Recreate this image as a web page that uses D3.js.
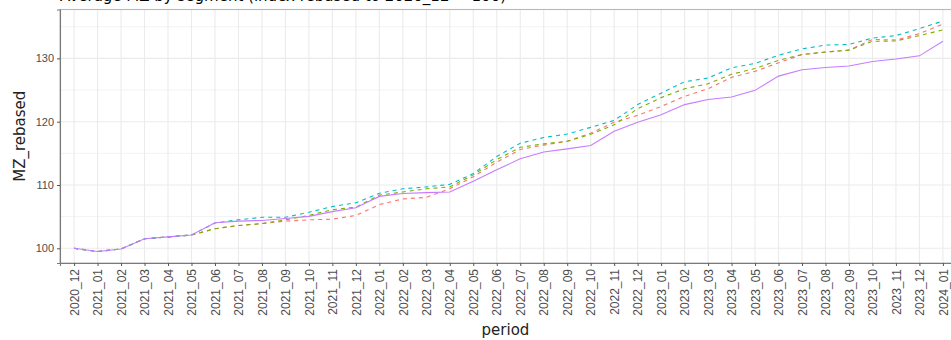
<!DOCTYPE html>
<html lang="en">
  <head>
    <meta charset="UTF-8" />
    <title>MZ rebased</title>
    <style>
      body { margin: 0; background: #fff; overflow: hidden; }
      svg { font-family: "DejaVu Sans", sans-serif; display: block; }
    </style>
  </head>
  <body>
    <div id="chart"></div>
    <script src="https://d3js.org/d3.v7.min.js"></script>
    <script>
      const periods = [
        "2020_12",
        "2021_01","2021_02","2021_03","2021_04","2021_05","2021_06",
        "2021_07","2021_08","2021_09","2021_10","2021_11","2021_12",
        "2022_01","2022_02","2022_03","2022_04","2022_05","2022_06",
        "2022_07","2022_08","2022_09","2022_10","2022_11","2022_12",
        "2023_01","2023_02","2023_03","2023_04","2023_05","2023_06",
        "2023_07","2023_08","2023_09","2023_10","2023_11","2023_12",
        "2024_01"
      ];

      // four groups
      const seriesRed = [
        100, 99.5, 99.9, 101.5, 101.8, 102.1, 103.1, 103.6, 103.9, 104.3, 104.5, 104.6, 105.2,
        106.9, 107.8, 108.05, 109.4, 111.3, 113.6, 115.6, 116.3, 116.9, 118.2, 119.9, 121.0,
        122.4, 124.0, 125.2, 127.0, 127.95, 129.3, 130.6, 131.0, 131.3, 133.0, 132.9, 133.9, 135.4
      ];
      const seriesGreen = [
        100, 99.5, 99.9, 101.5, 101.8, 102.1, 103.1, 103.6, 103.9, 104.5, 105.2, 106.1, 106.5,
        108.4, 108.9, 109.4, 109.7, 111.6, 114.0, 115.95, 116.5, 116.9, 118.0, 119.5, 122.05,
        123.8, 125.2, 126.0, 127.5, 128.4, 129.7, 130.6, 131.0, 131.3, 132.7, 132.75, 133.6, 134.5
      ];
      const seriesCyan = [
        100, 99.5, 99.9, 101.5, 101.8, 102.1, 104.0, 104.5, 104.9, 104.9, 105.7, 106.6, 107.2,
        108.7, 109.4, 109.7, 110.1, 111.8, 114.5, 116.6, 117.5, 118.05, 119.1, 120.2, 122.7,
        124.5, 126.3, 126.9, 128.5, 129.2, 130.5, 131.5, 132.1, 132.2, 133.2, 133.6, 134.7, 135.9
      ];
      const seriesPurple = [
        100, 99.5, 99.9, 101.5, 101.8, 102.1, 104.05, 104.3, 104.4, 104.7, 105.05, 105.8, 106.4,
        108.2, 108.65, 108.8, 108.9, 110.6, 112.4, 114.15, 115.2, 115.7, 116.25, 118.5, 119.9,
        121.1, 122.7, 123.5, 123.9, 124.95, 127.2, 128.2, 128.55, 128.8, 129.5, 129.9, 130.4, 132.7
      ];

      const yTicks = [100, 110, 120, 130];
      const yMinor = [105, 115, 125, 135];

      const series = [
        { values: seriesRed, color: "#F8766D", dash: "4,4" },
        { values: seriesGreen, color: "#7CAE00", dash: "4,4" },
        { values: seriesCyan, color: "#00BFC4", dash: "4,4" },
        { values: seriesPurple, color: "#C77CFF", dash: null }
      ];

      const width = 951, height = 340;
      const mLeft = 60, mTop = 9.5, mBottom = 263, mRight = 957;

      const svg = d3.select("#chart").append("svg")
        .attr("width", width)
        .attr("height", height);

      const x = d3.scalePoint().domain(periods).range([mLeft, mRight]).padding(0.6);

      const all = series.flatMap(s => s.values);
      const lo = d3.min(all), hi = d3.max(all), pad = (hi - lo) * 0.05;
      const y = d3.scaleLinear().domain([lo - pad, hi + pad]).range([mBottom, mTop]);

      // title, mostly cut off above the frame
      svg.append("text")
        .attr("x", mLeft)
        .attr("y", 1)
        .attr("font-size", 15)
        .attr("fill", "#000")
        .text("Average MZ by segment (index rebased to 2020_12 = 100)");

      // grid
      const grid = svg.append("g");
      grid.selectAll("line.minor").data(yMinor).join("line")
        .attr("x1", mLeft).attr("x2", mRight)
        .attr("y1", d => y(d)).attr("y2", d => y(d))
        .attr("stroke", "#f3f3f3").attr("stroke-width", 1);
      grid.selectAll("line.major").data(yTicks).join("line")
        .attr("x1", mLeft).attr("x2", mRight)
        .attr("y1", d => y(d)).attr("y2", d => y(d))
        .attr("stroke", "#ebebeb").attr("stroke-width", 1.1);
      grid.selectAll("line.vert").data(periods).join("line")
        .attr("x1", d => x(d)).attr("x2", d => x(d))
        .attr("y1", mTop).attr("y2", mBottom)
        .attr("stroke", "#ebebeb").attr("stroke-width", 1.1);

      // panel border
      svg.append("rect")
        .attr("x", mLeft).attr("y", mTop)
        .attr("width", mRight - mLeft).attr("height", mBottom - mTop)
        .attr("fill", "none").attr("stroke", "#b8b8b8").attr("stroke-width", 1.1);

      // lines
      const line = d3.line()
        .x((d, i) => x(periods[i]))
        .y(d => y(d));

      svg.append("g").selectAll("path").data(series).join("path")
        .attr("d", d => line(d.values))
        .attr("fill", "none")
        .attr("stroke", d => d.color)
        .attr("stroke-width", 1.1)
        .attr("stroke-dasharray", d => d.dash);

      // axes
      const xAxis = svg.append("g")
        .attr("transform", `translate(0,${mBottom})`)
        .call(d3.axisBottom(x).tickSize(3).tickPadding(3));
      xAxis.select(".domain").attr("stroke", "#7a7a7a").attr("stroke-width", 1.1);
      xAxis.selectAll(".tick line").attr("stroke", "#555");
      xAxis.selectAll(".tick text")
        .attr("font-size", 12)
        .attr("fill", "#4d4d4d")
        .attr("text-anchor", "end")
        .attr("dy", "0.35em")
        .attr("transform", "rotate(-90)")
        .attr("x", -6)
        .attr("y", 0);

      const yAxis = svg.append("g")
        .attr("transform", `translate(${mLeft},0)`)
        .call(d3.axisLeft(y).tickValues(yTicks).tickSize(3).tickPadding(3));
      yAxis.select(".domain").attr("stroke", "#7a7a7a").attr("stroke-width", 1.1);
      yAxis.selectAll(".tick line").attr("stroke", "#555");
      yAxis.selectAll(".tick text")
        .attr("font-size", 11)
        .attr("fill", "#4d4d4d");

      // axis titles
      svg.append("text")
        .attr("x", (mLeft + mRight) / 2 - 3)
        .attr("y", 335)
        .attr("text-anchor", "middle")
        .attr("font-size", 15)
        .attr("fill", "#222")
        .text("period");

      svg.append("text")
        .attr("transform", `translate(25,${(mTop + mBottom) / 2}) rotate(-90)`)
        .attr("text-anchor", "middle")
        .attr("font-size", 15)
        .attr("fill", "#222")
        .text("MZ_rebased");
    </script>
  </body>
</html>
